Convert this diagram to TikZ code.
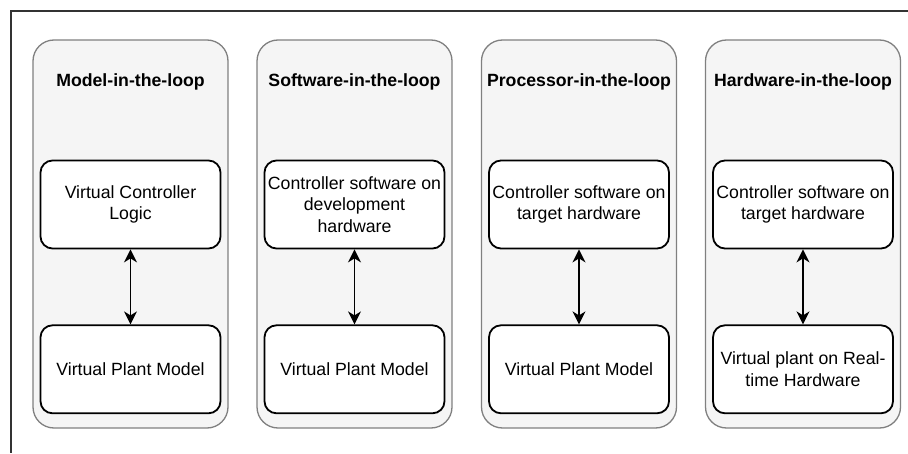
\documentclass[tikz,border=0pt]{standalone}
\usepackage{fontspec}
\setmainfont{Liberation Sans}
\usepackage{tikz}
\usetikzlibrary{positioning, arrows.meta}

\definecolor{grpfill}{HTML}{F5F5F5}
\definecolor{grpline}{HTML}{808080}
\definecolor{framecol}{HTML}{333333}

\begin{document}
\begin{tikzpicture}[
	  x=1pt, y=1pt,
	  font=\fontsize{17.7pt}{21.3pt}\selectfont,
	  grp/.style={draw=grpline, fill=grpfill, rounded corners=21pt, line width=1.3pt,
	    minimum width=195pt, minimum height=388pt, inner sep=0pt},
	  head/.style={font=\fontsize{17.7pt}{21.3pt}\selectfont\bfseries},
	  stagebox/.style={draw, fill=white, rounded corners=12pt, line width=1.8pt, align=center,
	    minimum width=180pt, minimum height=88pt, inner sep=2pt},
	  arr/.style={{Stealth[length=13pt, width=13pt, inset=4pt]}-{Stealth[length=13pt, width=13pt, inset=4pt]}, line width=1.6pt}
	]

	\useasboundingbox (0,0) rectangle (908,453);
	\draw[framecol, line width=1.4pt] (908,442) -- (11,442) -- (11,0);

	% Model-in-the-loop
	\node[grp] (milgrp) at (130.5,219) {};
	\node[head] (milhead) at (130.5,371) {Model-in-the-loop};
	\node[stagebox] (milctrl) at (130.5,248.5) {Virtual Controller\\Logic};
	\node[stagebox, below=75pt of milctrl] (milplant) {Virtual Plant Model};
	\draw[arr] (milctrl) -- (milplant);

	% Software-in-the-loop
	\node[grp] (silgrp) at (354.5,219) {};
	\node[head] (silhead) at (354.5,371) {Software-in-the-loop};
	\node[stagebox] (silctrl) at (354.5,248.5) {Controller software on\\development\\hardware};
	\node[stagebox, below=75pt of silctrl] (silplant) {Virtual Plant Model};
	\draw[arr] (silctrl) -- (silplant);

	% Processor-in-the-loop
	\node[grp] (pilgrp) at (579,219) {};
	\node[head] (pilhead) at (579,371) {Processor-in-the-loop};
	\node[stagebox] (pilctrl) at (579,248.5) {Controller software on\\target hardware};
	\node[stagebox, below=75pt of pilctrl] (pilplant) {Virtual Plant Model};
	\draw[arr] (pilctrl) -- (pilplant);

	% Hardware-in-the-loop
	\node[grp] (hilgrp) at (803,219) {};
	\node[head] (hilhead) at (803,371) {Hardware-in-the-loop};
	\node[stagebox] (hilctrl) at (803,248.5) {Controller software on\\target hardware};
	\node[stagebox, below=75pt of hilctrl] (hilplant) {Virtual plant on Real-\\time Hardware};
	\draw[arr] (hilctrl) -- (hilplant);

\end{tikzpicture}
\end{document}
